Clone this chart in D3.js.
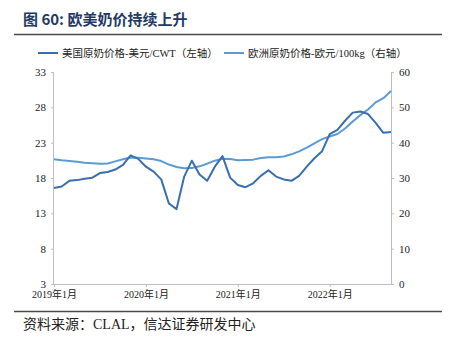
<!DOCTYPE html>
<html>
<head>
<meta charset="utf-8">
<script src="https://cdn.jsdelivr.net/npm/d3@7"></script>
<style>
  html, body { margin: 0; padding: 0; background: #fff; }
  svg { display: block; }
</style>
</head>
<body>
<svg id="chart" width="451" height="346"></svg>
<script>
// Months, 2019-01 .. 2022-09
const months = [
  "2019-01","2019-02","2019-03","2019-04","2019-05","2019-06","2019-07","2019-08","2019-09","2019-10","2019-11","2019-12",
  "2020-01","2020-02","2020-03","2020-04","2020-05","2020-06","2020-07","2020-08","2020-09","2020-10","2020-11","2020-12",
  "2021-01","2021-02","2021-03","2021-04","2021-05","2021-06","2021-07","2021-08","2021-09","2021-10","2021-11","2021-12",
  "2022-01","2022-02","2022-03","2022-04","2022-05","2022-06","2022-07","2022-08","2022-09"
];
// US raw milk price, USD/CWT (left axis)
const usPrice = [
  16.6, 16.8, 17.6, 17.7, 17.9, 18.05, 18.7, 18.85, 19.2, 19.85, 21.2, 20.7,
  19.6, 18.9, 17.8, 14.4, 13.6, 18.2, 20.45, 18.5, 17.6, 19.6, 21.1, 18.05,
  17.0, 16.7, 17.25, 18.3, 19.1, 18.2, 17.8, 17.6, 18.3, 19.6, 20.8, 21.8,
  24.2, 24.8, 26.1, 27.25, 27.4, 27.05, 25.8, 24.4, 24.5
];
// EU raw milk price, EUR/100kg (right axis)
const euPrice = [
  35.3, 35.0, 34.8, 34.6, 34.3, 34.15, 34.0, 34.1, 34.7, 35.3, 35.8, 35.7,
  35.5, 35.3, 34.8, 33.8, 33.1, 32.75, 32.8, 33.3, 34.05, 34.9, 35.45, 35.4,
  35.0, 35.1, 35.2, 35.65, 35.85, 35.9, 36.1, 36.7, 37.55, 38.6, 39.8, 41.0,
  41.75, 42.45, 44.0, 46.0, 47.8, 49.4, 51.4, 52.6, 54.6
];
const leftTicks = [3, 8, 13, 18, 23, 28, 33];
const rightTicks = [0, 10, 20, 30, 40, 50, 60];
const xTickMonths = ["2019-01", "2020-01", "2021-01", "2022-01"];
const xTickLabels = ["2019年1月", "2020年1月", "2021年1月", "2022年1月"];
const seriesNames = ["美国原奶价格-美元/CWT（左轴）", "欧洲原奶价格-欧元/100kg（右轴）"];

const svg = d3.select("#chart");
const serif = "'Liberation Serif', 'Noto Sans CJK SC', serif";
const cjk = "'Noto Sans CJK SC', sans-serif";

const plot = { left: 54, right: 391, top: 72, bottom: 284 };

const x = d3.scalePoint().domain(months).range([plot.left, plot.right]);
const yL = d3.scaleLinear().domain([3, 33]).range([plot.bottom, plot.top]);
const yR = d3.scaleLinear().domain([0, 60]).range([plot.bottom, plot.top]);

// Title and rules
svg.append("text")
  .attr("x", 23).attr("y", 25)
  .attr("font-family", cjk)
  .attr("font-weight", "bold")
  .attr("font-size", 15)
  .attr("fill", "#1f3a66")
  .text("图 60: 欧美奶价持续上升");
svg.append("line").attr("x1", 14).attr("x2", 442).attr("y1", 34.5).attr("y2", 34.5)
  .attr("stroke", "#4a4a4a").attr("stroke-width", 1.5);
svg.append("line").attr("x1", 14).attr("x2", 442).attr("y1", 311.5).attr("y2", 311.5)
  .attr("stroke", "#4a4a4a").attr("stroke-width", 1.5);

// Legend
const colors = ["#3a6fae", "#5b9bd5"];
const legendItems = [{ x: 38 }, { x: 224 }];
legendItems.forEach((d, i) => {
  svg.append("line").attr("x1", d.x).attr("x2", d.x + 20).attr("y1", 53).attr("y2", 53)
    .attr("stroke", colors[i]).attr("stroke-width", 2);
  svg.append("text").attr("x", d.x + 24).attr("y", 57)
    .attr("font-family", serif).attr("font-size", 10.5).attr("fill", "#222")
    .text(seriesNames[i]);
});

// Axes
const axisColor = "#bfbfbf";
const gL = svg.append("g").attr("transform", `translate(${plot.left},0)`)
  .call(d3.axisLeft(yL).tickValues(leftTicks).tickSize(3).tickPadding(5));
const gR = svg.append("g").attr("transform", `translate(${plot.right},0)`)
  .call(d3.axisRight(yR).tickValues(rightTicks).tickSize(3).tickPadding(5));
const gX = svg.append("g").attr("transform", `translate(0,${plot.bottom})`)
  .call(d3.axisBottom(x).tickValues(xTickMonths).tickSize(3).tickPadding(4)
    .tickFormat(m => xTickLabels[xTickMonths.indexOf(m)]));
[gL, gR, gX].forEach(g => {
  g.select(".domain").attr("stroke", axisColor);
  g.selectAll(".tick line").attr("stroke", axisColor);
  g.selectAll(".tick text").attr("font-family", serif).attr("font-size", 11).attr("fill", "#222");
});
gX.selectAll(".tick text").attr("font-size", 10);
// axis lines span exactly the plot area, without outer ticks
gX.select(".domain").attr("d", `M${plot.left},0.5H${plot.right}`);
gL.select(".domain").attr("d", `M-0.5,${plot.top}V${plot.bottom}`);
gR.select(".domain").attr("d", `M0.5,${plot.top}V${plot.bottom}`);

// Lines
const lineUS = d3.line().x((d, i) => x(months[i])).y(d => yL(d));
const lineEU = d3.line().x((d, i) => x(months[i])).y(d => yR(d));
svg.append("path").datum(euPrice).attr("d", lineEU)
  .attr("fill", "none").attr("stroke", colors[1]).attr("stroke-width", 2).attr("stroke-linejoin", "round");
svg.append("path").datum(usPrice).attr("d", lineUS)
  .attr("fill", "none").attr("stroke", colors[0]).attr("stroke-width", 2).attr("stroke-linejoin", "round");

// Source note
svg.append("text")
  .attr("x", 23).attr("y", 329)
  .attr("font-family", serif).attr("font-size", 14).attr("fill", "#222")
  .text("资料来源：CLAL，信达证券研发中心");
</script>
</body>
</html>
